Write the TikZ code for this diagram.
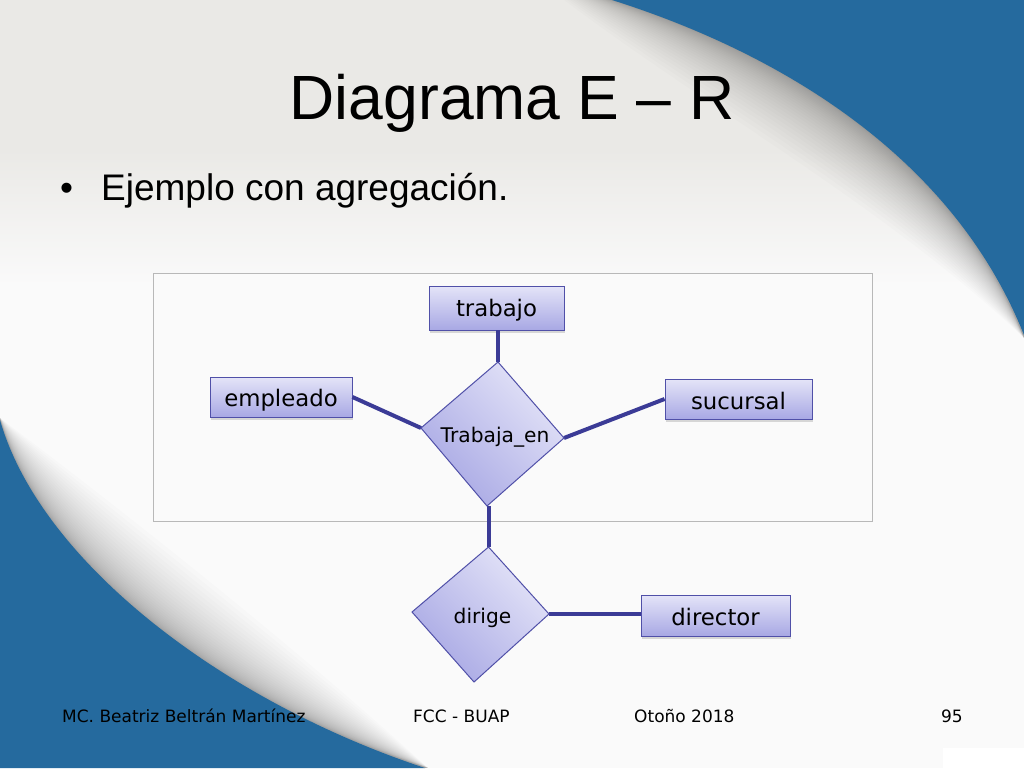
\documentclass[tikz,border=0pt]{standalone}
\usepackage{fontspec}
\setmainfont{Liberation Sans}
\newfontfamily\labelfont{DejaVu Sans}
\definecolor{slideblue}{HTML}{256A9E}
\definecolor{paper}{HTML}{FAFAFA}
\definecolor{topgrey}{HTML}{EAE9E6}
\definecolor{edgeblue}{HTML}{3B3B96}
\definecolor{boxedge}{HTML}{5050A8}
\definecolor{lightfill}{HTML}{E4E4F8}
\definecolor{darkfill}{HTML}{A8A8E4}
\tikzset{
  entitybox/.style={draw=boxedge,line width=.9pt,top color=lightfill,bottom color=darkfill,inner sep=0pt,
    font=\labelfont\fontsize{22.8}{26}\selectfont,text=black},
  softshadow/.style={fill=black,fill opacity=.14},
  relshape/.style={draw=boxedge,line width=1pt,top color=lightfill,bottom color=darkfill,shading angle=-45,line join=miter},
  rellabel/.style={font=\labelfont\fontsize{20.2}{23}\selectfont,text=black,inner sep=0pt,anchor=base},
  conn/.style={draw=edgeblue,line width=4pt},
  footer/.style={font=\labelfont\fontsize{17}{20}\selectfont,text=black,inner sep=0pt},
}
\newcommand{\boxtext}[2]{\raisebox{#1}[0pt][0pt]{#2}}
\begin{document}
\begin{tikzpicture}[x=1pt,y=-1pt]
\useasboundingbox (0,0) rectangle (1024,768);
\begin{scope}
\clip (0,0) rectangle (1024,768);
\fill[paper] (0,0) rectangle (1024,768);
\fill[topgrey] (0,0) rectangle (1024,150);
\fill[top color=topgrey,bottom color=paper] (0,149.5) rectangle (1024,285);
% shadow along the upper blue sweep
\foreach \i in {1,...,30}{
  \pgfmathsetmacro{\t}{80*(\i/30)^2}
  \pgfmathsetmacro{\cax}{770-0.75*\t}
  \pgfmathsetmacro{\cay}{50+0.75*\t}
  \pgfmathsetmacro{\cbx}{950-0.75*\t}
  \pgfmathsetmacro{\cby}{150+0.75*\t}
  \pgfmathsetmacro{\sx}{612-0.6*\t}
  \fill[black,fill opacity=0.0105]
    (\sx,0) .. controls (\cax,\cay) and (\cbx,\cby) .. (1024,338) -- (1024,0) -- cycle;
}
\fill[slideblue] (612,0) .. controls (770,50) and (950,150) .. (1024,335) -- (1024,0) -- cycle;
% shadow along the lower blue sweep
\foreach \i in {1,...,30}{
  \pgfmathsetmacro{\t}{85*(\i/30)^2}
  \pgfmathsetmacro{\cax}{40+0.75*\t}
  \pgfmathsetmacro{\cay}{560-0.75*\t}
  \pgfmathsetmacro{\cbx}{220+0.75*\t}
  \pgfmathsetmacro{\cby}{700-0.75*\t}
  \fill[black,fill opacity=0.0105]
    (0,418) .. controls (\cax,\cay) and (\cbx,\cby) .. (428,768) -- (0,768) -- cycle;
}
\fill[slideblue] (0,420) .. controls (40,560) and (220,700) .. (425,768) -- (0,768) -- cycle;
\fill[white] (943,748) rectangle (1024,768);
\end{scope}

\node[anchor=base,inner sep=0pt,font=\fontsize{62.5}{68}\selectfont] (title) at (512,119) {Diagrama E – R};
\node[anchor=base west,inner sep=0pt,font=\fontsize{37}{42}\selectfont] (bullet) at (60,200) {•};
\node[anchor=base west,inner sep=0pt,font=\fontsize{37}{42}\selectfont] (sub) at (101,200) {Ejemplo con agregación.};

\node[draw=black!28,fill=paper,line width=1pt,minimum width=719pt,minimum height=248pt,inner sep=0pt] (frame) at (512.5,397) {};

\coordinate (d1t) at (498,362);
\coordinate (d1l) at (421,428);
\coordinate (d1r) at (564,438);
\coordinate (d1b) at (487,506);
\coordinate (d2t) at (488.5,547);
\coordinate (d2l) at (412,612);
\coordinate (d2r) at (549,614);
\coordinate (d2b) at (474,682);

\node[entitybox,minimum width=135pt,minimum height=44pt] (trabajo) at (496.5,308) {\boxtext{-8.5pt}{trabajo}};
\node[entitybox,minimum width=142pt,minimum height=40pt] (empleado) at (281,397) {\boxtext{-9pt}{empleado}};
\node[entitybox,minimum width=147pt,minimum height=40pt] (sucursal) at (738.5,399) {\boxtext{-10pt}{sucursal}};
\node[entitybox,minimum width=149pt,minimum height=41pt] (director) at (715.5,615.5) {\boxtext{-9.5pt}{director}};

\foreach \n in {trabajo,empleado,sucursal,director}{
  \fill[softshadow] ([xshift=1pt,yshift=-0.5pt]\n.south west) rectangle ([xshift=1pt,yshift=-2pt]\n.south east);
  \fill[softshadow] ([xshift=1pt,yshift=-2pt]\n.south west) rectangle ([xshift=1pt,yshift=-3pt]\n.south east);
}

\draw[conn] (trabajo.south -| d1t) -- (d1t);
\draw[conn] (empleado.east) -- (d1l);
\draw[conn] (sucursal.west) -- (d1r);
\draw[conn] (d1b -| d2t) -- (d2t);
\draw[conn] (d2r) -- (director.west |- d2r);

\path[relshape] (d1t) -- (d1r) -- (d1b) -- (d1l) -- cycle;
\path[relshape] (d2t) -- (d2r) -- (d2b) -- (d2l) -- cycle;
\node[rellabel] (trabajaen) at (495,442) {Trabaja\_en};
\node[rellabel] (dirige) at (482.5,623.5) {dirige};

\node[footer,anchor=base west] (f1) at (62,722) {MC. Beatriz Beltrán Martínez};
\node[footer,anchor=base west] (f2) at (413,722) {FCC - BUAP};
\node[footer,anchor=base west] (f3) at (634,722) {Otoño 2018};
\node[footer,anchor=base east] (f4) at (963,722) {95};
\end{tikzpicture}
\end{document}
